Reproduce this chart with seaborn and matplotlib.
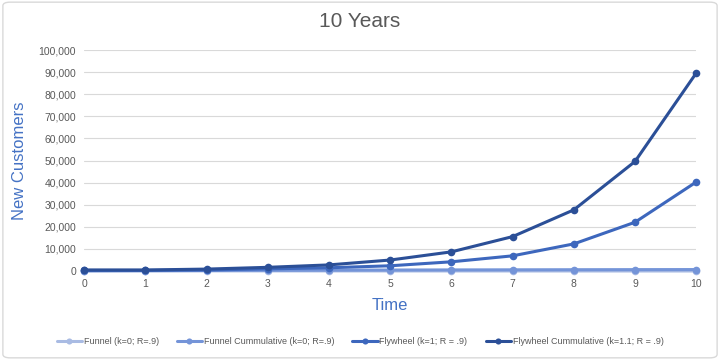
import matplotlib
matplotlib.use("Agg")
import matplotlib.pyplot as plt
import seaborn as sns
import pandas as pd
from matplotlib.patches import FancyBboxPatch
from matplotlib.ticker import FuncFormatter

years = [0, 1, 2, 3, 4, 5, 6, 7, 8, 9, 10]
funnel = [100, 90, 81, 73, 66, 59, 53, 48, 43, 39, 35]
funnel_cum = [100, 190, 271, 344, 410, 469, 522, 570, 613, 652, 686]
flywheel = [300, 300, 500, 1000, 1500, 2400, 4200, 6900, 12300, 22100, 40300]
flywheel_cum = [500, 500, 900, 1700, 2800, 5000, 8700, 15600, 27700, 49600, 89600]

series_names = ["Funnel (k=0; R=.9)", "Funnel Cummulative (k=0; R=.9)",
                "Flywheel (k=1; R = .9)", "Flywheel Cummulative (k=1.1; R = .9)"]
colors = ["#a9bbe3", "#7494d8", "#3d67bd", "#2b4f97"]

df = pd.concat([
    pd.DataFrame({"Time": years, "Value": v, "Series": n})
    for v, n in zip([funnel, funnel_cum, flywheel, flywheel_cum], series_names)
])

sns.set_theme(style="white")
plt.rcParams['font.family'] = ['Liberation Sans', 'DejaVu Sans']

fig = plt.figure(figsize=(7.2, 3.6), dpi=100)
ax = fig.add_axes([0.117, 0.247, 0.850, 0.614])

sns.lineplot(data=df, x="Time", y="Value", hue="Series", palette=colors,
             hue_order=series_names, marker="o", markersize=5.5, markeredgewidth=0,
             linewidth=2.2, ax=ax, legend=True)

ax.set_xlim(0, 10)
ax.set_ylim(0, 100000)
ax.set_xticks(years)
ax.set_yticks(range(0, 100001, 10000))
ax.yaxis.set_major_formatter(FuncFormatter(lambda v, p: f"{int(v):,}"))
ax.grid(axis="y", color="#d9d9d9", linewidth=0.8)
ax.set_axisbelow(True)
for s in ax.spines.values():
    s.set_visible(False)
ax.tick_params(axis="both", labelsize=7.5, colors="#595959", length=0, pad=6)
for c in ax.collections + ax.lines:
    c.set_clip_on(False)

ax.set_xlabel("Time", fontsize=12, color="#4472c4", labelpad=6)
ax.set_ylabel("New Customers", fontsize=12, color="#4472c4", labelpad=8)
fig.text(0.5, 0.94, "10 Years", ha="center", va="center", fontsize=15, color="#595959")

h, l = ax.get_legend_handles_labels()
ax.legend_.remove()
leg = fig.legend(h, l, loc="center", bbox_to_anchor=(0.5, 0.052), ncol=4, frameon=False,
                 fontsize=6.5, handlelength=2.8, columnspacing=2.0, handletextpad=0.2,
                 markerscale=0.8)
for t in leg.get_texts():
    t.set_color("#595959")

fig.patches.append(FancyBboxPatch((0.004, 0.006), 0.992, 0.988, boxstyle="round,pad=0,rounding_size=0.01",
                                  transform=fig.transFigure, fill=False, edgecolor="#d9d9d9", linewidth=1))

fig.savefig("out.png", dpi=100)
